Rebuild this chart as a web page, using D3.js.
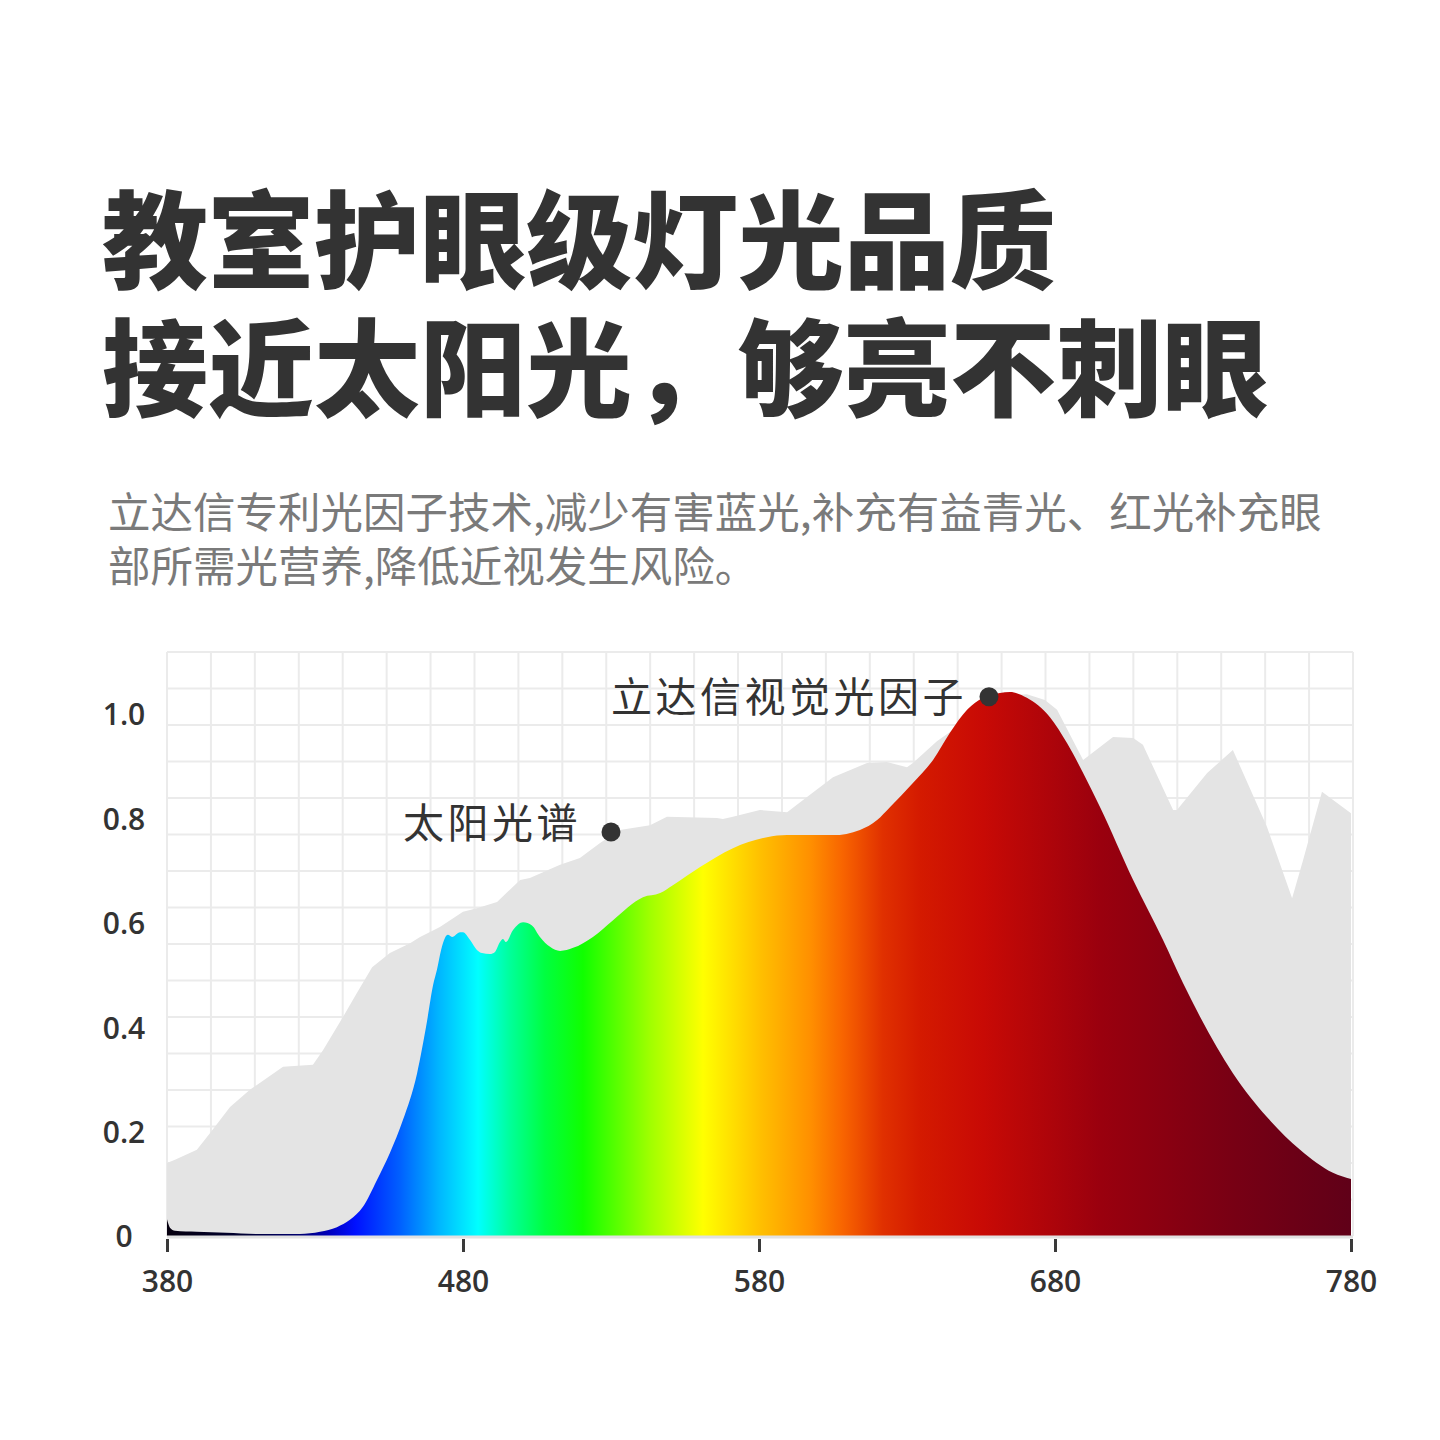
<!DOCTYPE html>
<html><head><meta charset="utf-8">
<script src="https://cdn.jsdelivr.net/npm/d3@7"></script>
<style>body{margin:0;background:#fff} svg{display:block}</style>
</head><body>
<script>
// ---------- DATA ----------
const titleLines = ["教室护眼级灯光品质", "接近太阳光，够亮不刺眼"];
const subtitleLines = ["立达信专利光因子技术,减少有害蓝光,补充有益青光、红光补充眼", "部所需光营养,降低近视发生风险。"];
const xTicks = [380, 480, 580, 680, 780];
const yTicks = [0, 0.2, 0.4, 0.6, 0.8, 1.0];
const yTickLabels = ["0", "0.2", "0.4", "0.6", "0.8", "1.0"];

// Sun spectrum (grey)
const sunWavelength = [380, 382.7, 390.1, 394.5, 401.3, 408.0, 419.2, 429.3, 432.7, 439.5, 444.2, 449.3, 455.3, 462.1, 465.5, 472.2, 480.0, 484.7, 491.5, 499.3, 502.6, 512.8, 519.5, 526.3, 533.0, 543.2, 548.9, 565.8, 567.8, 571.2, 580.3, 589.5, 593.9, 605.0, 616.5, 623.2, 630.0, 632.0, 640.1, 647.9, 658.0, 666.5, 670.5, 676.6, 680.7, 689.5, 699.6, 706.4, 709.7, 719.9, 721.2, 731.4, 740.1, 751.6, 760.1, 763.8, 770.2, 780];
const sunValue = [0.140, 0.146, 0.165, 0.197, 0.247, 0.280, 0.324, 0.328, 0.356, 0.420, 0.466, 0.515, 0.542, 0.561, 0.573, 0.592, 0.621, 0.628, 0.640, 0.682, 0.686, 0.711, 0.724, 0.753, 0.778, 0.787, 0.803, 0.801, 0.799, 0.803, 0.816, 0.812, 0.831, 0.879, 0.906, 0.908, 0.898, 0.906, 0.948, 0.979, 1.017, 1.036, 1.038, 1.027, 1.008, 0.912, 0.956, 0.954, 0.941, 0.816, 0.816, 0.887, 0.931, 0.784, 0.647, 0.720, 0.851, 0.810];

// LED "视觉光因子" spectrum (coloured)
const ledWavelength = [380, 381, 382.7, 390, 400, 410, 424.9, 431.7, 437.4, 441.8, 446.2, 450.9, 455.3, 459.7, 464.5, 467.8, 469.9, 471.2, 472.6, 473.9, 474.9, 476.3, 479.0, 480.0, 482.4, 484.7, 486.4, 489.1, 490.8, 492.5, 493.5, 494.5, 496.9, 500.3, 503.3, 506.0, 509.4, 512.8, 517.2, 523.9, 530.7, 540.8, 546.6, 550.9, 560.1, 571.2, 582.7, 589.5, 605.0, 614.1, 619.9, 624.3, 632.0, 638.8, 644.5, 650.3, 655.7, 661.4, 664.8, 670.5, 678.3, 684.1, 689.5, 695.2, 706.4, 716.5, 723.2, 729.0, 740.1, 751.6, 762.8, 773.9, 780];
const ledValue = [0.032, 0.016, 0.010, 0.008, 0.006, 0.004, 0.004, 0.008, 0.017, 0.031, 0.056, 0.107, 0.159, 0.222, 0.312, 0.410, 0.481, 0.510, 0.548, 0.571, 0.577, 0.573, 0.582, 0.582, 0.567, 0.548, 0.542, 0.540, 0.544, 0.563, 0.569, 0.563, 0.586, 0.601, 0.595, 0.573, 0.554, 0.546, 0.552, 0.573, 0.605, 0.649, 0.657, 0.672, 0.707, 0.743, 0.764, 0.768, 0.768, 0.778, 0.797, 0.822, 0.868, 0.912, 0.964, 1.008, 1.031, 1.040, 1.042, 1.031, 0.994, 0.944, 0.887, 0.822, 0.682, 0.567, 0.485, 0.420, 0.312, 0.228, 0.165, 0.121, 0.109];

const annotationLabels = ["太阳光谱", "立达信视觉光因子"];
const annotationWavelength = [530, 657.7];
const annotationValue = [0.774, 1.033];

// ---------- STYLE ----------
const spectrumStops = [
  [380, "#06000f"], [404.7, "#000030"], [424.9, "#000070"], [435.1, "#0000c0"],
  [443.5, "#0010ff"], [458.7, "#0060ff"], [472.2, "#00b8ff"], [485.1, "#00ffff"],
  [495.9, "#00ff9a"], [507.7, "#00ff40"], [520.5, "#10ff00"], [543.2, "#a0ff00"],
  [561.1, "#ffff00"], [580.3, "#ffc000"], [597.2, "#ff9000"], [608.4, "#f86400"],
  [621.9, "#e03000"], [634.4, "#d41a00"], [655.7, "#c80a05"], [695.2, "#9a000e"],
  [740.1, "#780014"], [780, "#600018"]
];

const W = 1440, H = 1440;
const svg = d3.select("body").append("svg").attr("width", W).attr("height", H)
  .style("font-family", "'Noto Sans CJK SC', 'Noto Sans', sans-serif");

const x = d3.scaleLinear().domain([380, 780]).range([167, 1351]);
const y = d3.scaleLinear().domain([0, 1]).range([1236, 714]);
const gx = d3.scaleLinear().domain([0, 27]).range([167, 1353]);
const gy = d3.scaleLinear().domain([0, 16]).range([1236, 652]);

// Titles
svg.selectAll("text.title").data(titleLines).join("text")
  .attr("class", "title")
  .attr("x", 102).attr("y", (d, i) => 234 + i * 128)
  .attr("dominant-baseline", "central")
  .attr("font-size", 106).attr("font-weight", 900).attr("fill", "#333")
  .text(d => d);

svg.selectAll("text.sub").data(subtitleLines).join("text")
  .attr("class", "sub")
  .attr("x", 108).attr("y", (d, i) => 509 + i * 54)
  .attr("dominant-baseline", "central")
  .attr("font-size", 42.5).attr("font-weight", 400).attr("fill", "#7a7a7a")
  .text(d => d);

// Grid
const grid = svg.append("g").attr("stroke", "#ebebeb").attr("stroke-width", 2);
grid.selectAll("line.v").data(d3.range(28)).join("line").attr("class", "v")
  .attr("x1", d => gx(d)).attr("x2", d => gx(d)).attr("y1", gy(16)).attr("y2", gy(0));
grid.selectAll("line.h").data(d3.range(17)).join("line").attr("class", "h")
  .attr("y1", d => gy(d)).attr("y2", d => gy(d)).attr("x1", gx(0)).attr("x2", gx(27));

// Gradient
const defs = svg.append("defs");
const grad = defs.append("linearGradient").attr("id", "spec")
  .attr("gradientUnits", "userSpaceOnUse")
  .attr("x1", x(380)).attr("x2", x(780)).attr("y1", 0).attr("y2", 0);
grad.selectAll("stop").data(spectrumStops).join("stop")
  .attr("offset", d => (d[0] - 380) / 400)
  .attr("stop-color", d => d[1]);

// Areas
const sunData = sunWavelength.map((w, i) => ({ w, v: sunValue[i] }));
const ledData = ledWavelength.map((w, i) => ({ w, v: ledValue[i] }));

const sunArea = d3.area().x(d => x(d.w)).y0(y(0)).y1(d => y(d.v)).curve(d3.curveLinear);
const ledArea = d3.area().x(d => x(d.w)).y0(y(0)).y1(d => y(d.v)).curve(d3.curveMonotoneX);

svg.append("path").datum(sunData).attr("d", sunArea).attr("fill", "#e4e4e4");
svg.append("path").datum(ledData).attr("d", ledArea).attr("fill", "url(#spec)");

// Baseline
svg.append("line").attr("x1", x(380)).attr("x2", gx(27)).attr("y1", y(0) + 1).attr("y2", y(0) + 1)
  .attr("stroke", "#e2e2e2").attr("stroke-width", 3);

// X axis
const xAxis = svg.append("g").attr("transform", "translate(0,1239)")
  .call(d3.axisBottom(x).tickValues(xTicks).tickSize(13).tickFormat(d3.format("d")));
xAxis.select(".domain").remove();
xAxis.selectAll(".tick line").attr("stroke", "#3a3a3a").attr("stroke-width", 3);
xAxis.selectAll(".tick text").attr("y", 42).attr("dy", "0.36em")
  .attr("font-size", 30).attr("font-weight", 600).attr("fill", "#333")
  .attr("font-family", "'Open Sans', sans-serif");

// Y axis
const yAxis = svg.append("g").attr("transform", "translate(124,0)")
  .call(d3.axisLeft(y).tickValues(yTicks).tickSize(0).tickPadding(0)
    .tickFormat((d, i) => yTickLabels[i]));
yAxis.select(".domain").remove();
yAxis.selectAll(".tick text").attr("x", 0).attr("dy", "0.36em").attr("text-anchor", "middle")
  .attr("font-size", 30).attr("font-weight", 600).attr("fill", "#333")
  .attr("font-family", "'Open Sans', sans-serif");

// Annotations
const ann = annotationLabels.map((l, i) => ({ l, w: annotationWavelength[i], v: annotationValue[i] }));
svg.selectAll("circle.ann").data(ann).join("circle").attr("class", "ann")
  .attr("cx", d => x(d.w)).attr("cy", d => y(d.v)).attr("r", 9.5).attr("fill", "#333");
const annTextX = [403, 611];
const annTextY = [820, 694];
svg.selectAll("text.ann").data(ann).join("text").attr("class", "ann")
  .attr("x", (d, i) => annTextX[i]).attr("y", (d, i) => annTextY[i])
  .attr("dominant-baseline", "central")
  .attr("font-size", 41).attr("letter-spacing", 3.5).attr("fill", "#333")
  .text(d => d.l);
</script>
</body></html>
